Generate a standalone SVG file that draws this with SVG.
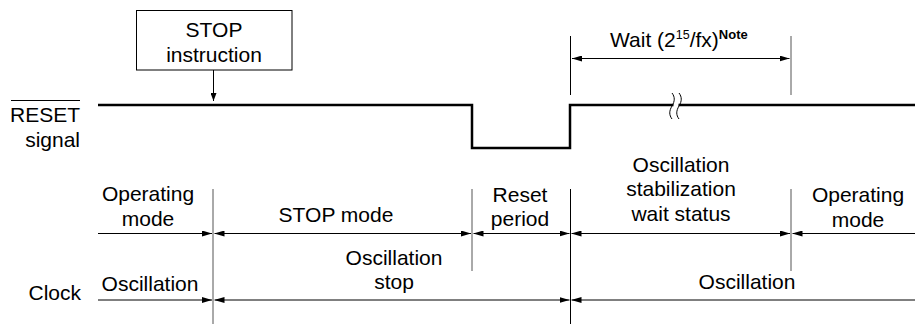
<svg xmlns="http://www.w3.org/2000/svg" width="915" height="324" viewBox="0 0 915 324">
<style>
text{font-family:"Liberation Sans",Arial,sans-serif;font-size:21px;fill:#000}
.c{text-anchor:middle}
.e{text-anchor:end}
.ln{stroke:#000;stroke-width:1;fill:none}
.gy{stroke:#555;stroke-width:1;fill:none}
.dim{stroke:#000;stroke-width:1;fill:none;marker-start:url(#ah);marker-end:url(#ah)}
.dimE{stroke:#000;stroke-width:1;fill:none;marker-end:url(#ah)}
.dimS{stroke:#000;stroke-width:1;fill:none;marker-start:url(#ah)}
.sig{stroke:#000;stroke-width:2.5;fill:none;stroke-linejoin:miter}
</style>
<defs>
<marker id="ah" markerUnits="userSpaceOnUse" markerWidth="10" markerHeight="6" refX="10" refY="3" orient="auto-start-reverse" viewBox="0 0 10 6">
<path d="M0,0 L10,3 L0,6 z" fill="#000"/>
</marker>
<marker id="ah2" markerUnits="userSpaceOnUse" markerWidth="8" markerHeight="6" refX="8" refY="3" orient="auto" viewBox="0 0 8 6">
<path d="M0,0 L8,3 L0,6 z" fill="#000"/>
</marker>
</defs>

<g id="stop-instruction">
<rect x="136.5" y="10.5" width="155.5" height="59.5" fill="#fff" stroke="#000" stroke-width="1"/>
<text class="c" x="214" y="37">STOP</text>
<text class="c" x="214" y="62">instruction</text>
</g>

<g id="reset-label">
<text class="e" x="80" y="122">RESET</text>
<line x1="11" y1="100.5" x2="80" y2="100.5" stroke="#000" stroke-width="1"/>
<text class="e" x="80" y="147">signal</text>
</g>

<g id="clock-label">
<text class="e" x="81" y="300">Clock</text>
</g>

<g id="reset-signal">
<polyline class="sig" points="98,105 472,105 472,148 570,148 570,105 915,105"/>
<rect x="673.5" y="100" width="5" height="10" fill="#fff"/>
<path class="ln" d="M672,93 c3,4 3,8 0,13 s-3,9 0,13"/>
<path class="ln" d="M679,93 c3,4 3,8 0,13 s-3,9 0,13"/>
</g>

<g id="wait-label">
<text x="610" y="47">Wait (2<tspan font-size="12.5" dy="-8">15</tspan><tspan dy="8">/fx)</tspan><tspan font-size="13" font-weight="bold" dy="-8">Note</tspan></text>
</g>

<g id="op-mode-1">
<text class="c" x="148" y="201">Operating</text>
<text class="c" x="148" y="226">mode</text>
</g>
<g id="stop-mode">
<text class="c" x="336" y="222">STOP mode</text>
</g>
<g id="reset-period">
<text class="c" x="520" y="202">Reset</text>
<text class="c" x="520" y="226">period</text>
</g>
<g id="stab-wait">
<text class="c" x="681" y="171.5">Oscillation</text>
<text class="c" x="681" y="196">stabilization</text>
<text class="c" x="681" y="221">wait status</text>
</g>
<g id="op-mode-2">
<text class="c" x="858" y="202">Operating</text>
<text class="c" x="858" y="226.5">mode</text>
</g>
<g id="osc-1">
<text class="c" x="150" y="291">Oscillation</text>
</g>
<g id="osc-stop">
<text class="c" x="394" y="265">Oscillation</text>
<text class="c" x="394" y="289">stop</text>
</g>
<g id="osc-2">
<text class="c" x="747" y="289">Oscillation</text>
</g>

<g id="connectors">
<line x1="213.5" y1="70" x2="213.5" y2="101" stroke="#000" stroke-width="1" marker-end="url(#ah2)"/>
<line class="gy" x1="213" y1="189" x2="213" y2="324"/>
<line class="gy" x1="472" y1="189" x2="472" y2="271"/>
<line class="ln" x1="570.5" y1="189" x2="570.5" y2="324"/>
<line class="gy" x1="791" y1="189" x2="791" y2="271"/>
<line class="ln" x1="570.5" y1="36" x2="570.5" y2="95"/>
<line class="gy" x1="791" y1="36" x2="791" y2="95"/>
<line class="dim" x1="572" y1="58.5" x2="789.5" y2="58.5"/>
<line class="dimE" x1="98" y1="233.5" x2="212" y2="233.5"/>
<line class="dim" x1="214.5" y1="233.5" x2="471" y2="233.5"/>
<line class="dim" x1="473.5" y1="233.5" x2="569.5" y2="233.5"/>
<line class="dim" x1="571.5" y1="233.5" x2="790" y2="233.5"/>
<line class="dimS" x1="792.5" y1="233.5" x2="915" y2="233.5"/>
<line class="dimE" x1="98" y1="300" x2="212" y2="300"/>
<line class="dim" x1="214.5" y1="300" x2="569.5" y2="300"/>
<line class="dimS" x1="571.5" y1="300" x2="915" y2="300"/>
</g>
</svg>
